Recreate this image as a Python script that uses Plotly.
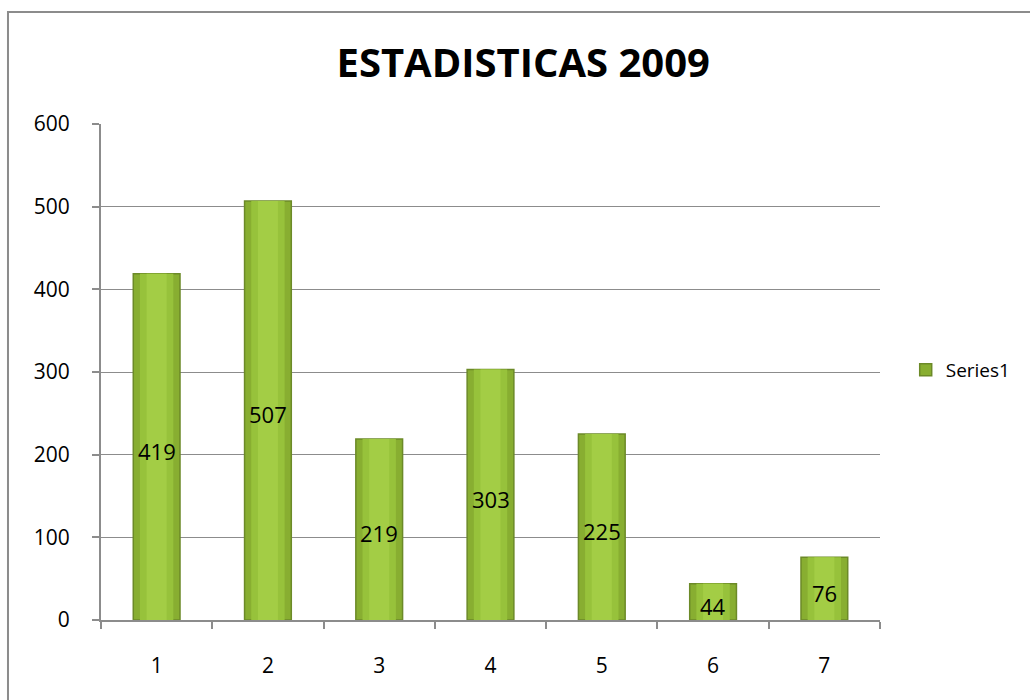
import plotly.graph_objects as go

categories = ["1", "2", "3", "4", "5", "6", "7"]
values = [419, 507, 219, 303, 225, 44, 76]
series_name = "Series1"
title_text = "ESTADISTICAS 2009"

FONT = "Open Sans, Liberation Sans, sans-serif"
GRID = "#8c8c8c"

fig = go.Figure()

# main bar body
fig.add_trace(go.Bar(
    x=categories,
    y=values,
    name=series_name,
    width=0.42,
    marker=dict(color="#88ae31", line=dict(color="#6c8a28", width=1.5)),
    hoverinfo="skip",
    showlegend=True,
))

# lighter centre bands for a soft cylindrical shading
fig.add_trace(go.Bar(
    x=categories,
    y=values,
    width=0.30,
    marker=dict(color="#97c23b", line=dict(width=0)),
    hoverinfo="skip",
    showlegend=False,
))
fig.add_trace(go.Bar(
    x=categories,
    y=values,
    width=0.18,
    marker=dict(color="#a3cd45", line=dict(width=0)),
    hoverinfo="skip",
    showlegend=False,
))

# value labels in the middle of each bar (category axis positions are indices)
for idx, val in enumerate(values):
    fig.add_annotation(
        x=idx, y=val / 2, xref="x", yref="y",
        text=str(val), showarrow=False,
        xanchor="center", yanchor="middle", yshift=-4,
        font=dict(family=FONT, size=22, color="#000000"),
    )

# outer chart frame
fig.add_shape(
    type="rect", xref="paper", yref="paper",
    x0=-0.1194, x1=1.21, y0=-0.19, y1=1.2258,
    line=dict(color="#8c8c8c", width=2), fillcolor="rgba(0,0,0,0)",
    layer="below",
)

fig.update_layout(
    width=1030,
    height=700,
    margin=dict(l=101, r=150, t=124, b=80, autoexpand=False),
    paper_bgcolor="white",
    plot_bgcolor="white",
    font=dict(family=FONT, color="#000000"),
    barmode="overlay",
    title=dict(
        text=f"<b>{title_text}</b>",
        x=0.508, xref="container", xanchor="center",
        y=0.91, yref="container", yanchor="middle",
        font=dict(family=FONT, size=40, color="#000000"),
    ),
    legend=dict(
        x=1.033, y=0.504, xanchor="left", yanchor="middle",
        font=dict(family=FONT, size=19, color="#000000"),
        bgcolor="rgba(0,0,0,0)",
    ),
    xaxis=dict(
        type="category",
        showgrid=False,
        showline=True, linecolor=GRID, linewidth=2,
        ticks="outside", tickson="boundaries", ticklen=7, tickcolor=GRID, tickwidth=2,
        tickfont=dict(family=FONT, size=21, color="#000000"),
        ticklabelstandoff=26,
        zeroline=False,
    ),
    yaxis=dict(
        range=[0, 600],
        dtick=100,
        showgrid=True, gridcolor=GRID, gridwidth=1,
        showline=True, linecolor=GRID, linewidth=2,
        ticks="outside", ticklen=7, tickcolor=GRID, tickwidth=2,
        tickfont=dict(family=FONT, size=21, color="#000000"),
        ticklabelstandoff=18,
        zeroline=False,
    ),
)

fig.write_html("out.html")
